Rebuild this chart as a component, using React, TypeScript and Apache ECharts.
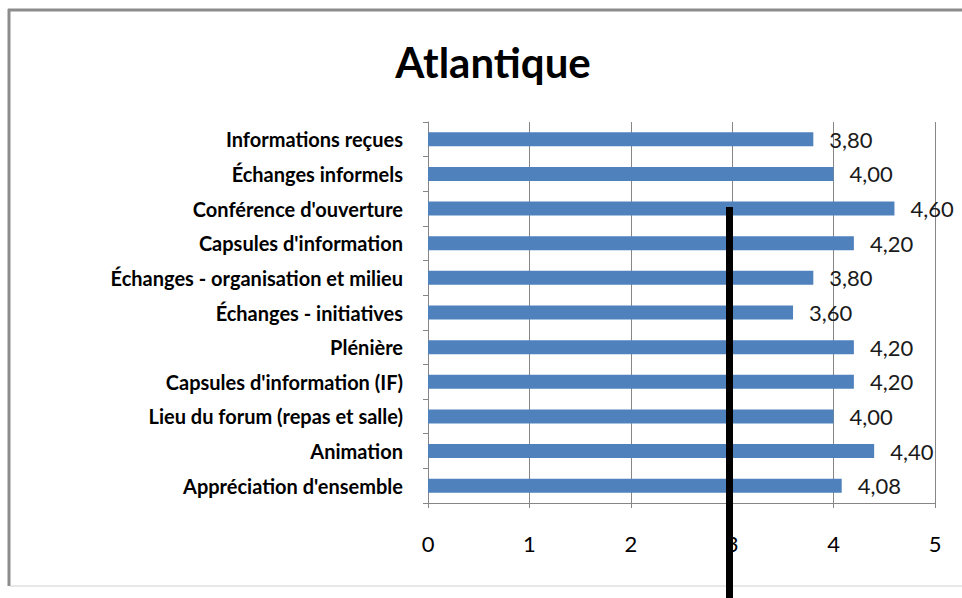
import React, { useEffect, useRef } from "react";
import * as echarts from "echarts";

const TITLE = "Atlantique";
const categories = [
  "Informations reçues",
  "Échanges informels",
  "Conférence d'ouverture",
  "Capsules d'information",
  "Échanges - organisation et milieu",
  "Échanges - initiatives",
  "Plénière",
  "Capsules d'information (IF)",
  "Lieu du forum (repas et salle)",
  "Animation",
  "Appréciation d'ensemble",
];
const values = [3.8, 4.0, 4.6, 4.2, 3.8, 3.6, 4.2, 4.2, 4.0, 4.4, 4.08];
const xTicks = { min: 0, max: 5, interval: 1 };

const FONT = "Lato, 'Noto Sans', sans-serif";

export default function App() {
  const ref = useRef<HTMLDivElement>(null);
  useEffect(() => {
    if (!ref.current) return;
    const chart = echarts.init(ref.current, null, { renderer: "svg" });
    chart.setOption({
      animation: false,
      backgroundColor: "#ffffff",
      title: {
        text: TITLE,
        left: 488,
        top: 36,
        textAlign: "center",
        textStyle: { fontFamily: FONT, fontSize: 42, fontWeight: "bold", color: "#000" },
      },
      grid: { left: 428, right: 27, top: 122, height: 381, containLabel: false },
      xAxis: {
        type: "value",
        min: xTicks.min,
        max: xTicks.max,
        interval: xTicks.interval,
        axisLine: { show: true, lineStyle: { color: "#868686", width: 1 } },
        axisTick: { show: true, length: 5, lineStyle: { color: "#868686" } },
        splitLine: { show: true, lineStyle: { color: "#868686", width: 1 } },
        axisLabel: { fontFamily: FONT, fontSize: 22, color: "#000", margin: 29 },
      },
      yAxis: {
        type: "category",
        data: categories,
        inverse: true,
        axisLine: { show: true, lineStyle: { color: "#868686", width: 1 } },
        axisTick: { show: true, length: 5, lineStyle: { color: "#868686" } },
        splitLine: { show: false },
        axisLabel: {
          fontFamily: FONT,
          fontSize: 20,
          fontWeight: "bold",
          color: "#000",
          margin: 25,
        },
      },
      series: [
        {
          type: "bar",
          data: values,
          barWidth: 14,
          itemStyle: { color: "#4F81BD" },
          label: {
            show: true,
            position: "right",
            distance: 16,
            fontFamily: FONT,
            fontSize: 22,
            color: "#1a1a1a",
            formatter: (p: any) => Number(p.value).toFixed(2).replace(".", ","),
          },
        },
      ],
      graphic: [
        { type: "line", shape: { x1: 8, y1: 10, x2: 962, y2: 10 }, style: { stroke: "#8c8c8c", lineWidth: 3 }, z: 100 },
        { type: "line", shape: { x1: 9, y1: 9, x2: 9, y2: 586 }, style: { stroke: "#8c8c8c", lineWidth: 3 }, z: 100 },
        { type: "line", shape: { x1: 10, y1: 586, x2: 962, y2: 586 }, style: { stroke: "#d0d0d0", lineWidth: 1 }, z: 100 },
        { type: "rect", shape: { x: 726, y: 207, width: 7, height: 391 }, style: { fill: "#000" }, z: 100 },
      ],
    });
    return () => chart.dispose();
  }, []);
  return (
    <div
      ref={ref}
      style={{ position: "absolute", left: 0, top: 0, width: 962, height: 598, background: "#fff" }}
    />
  );
}
